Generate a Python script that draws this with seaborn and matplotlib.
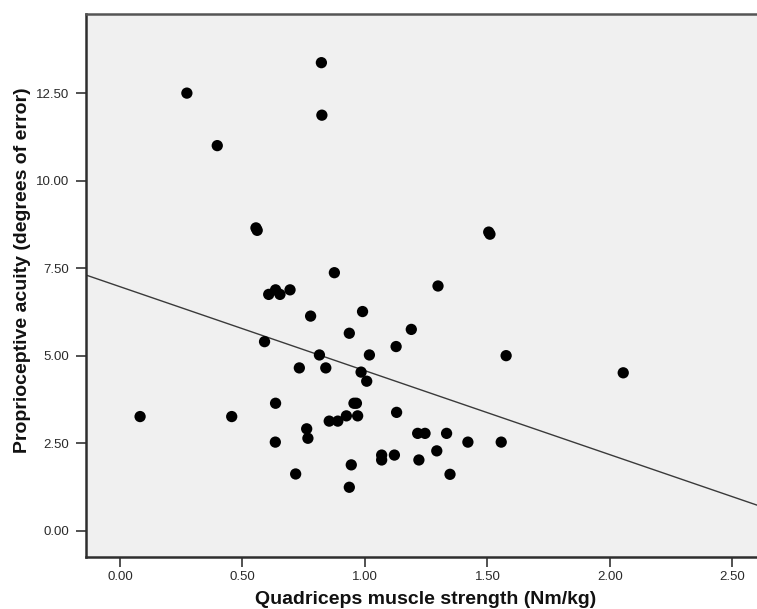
import matplotlib
matplotlib.use("Agg")
import matplotlib.pyplot as plt
import seaborn as sns
import pandas as pd
from matplotlib.ticker import FormatStrFormatter, FixedLocator

strength = [0.082, 0.273, 0.397, 0.456, 0.555, 0.560, 0.590, 0.607, 0.635, 0.653,
            0.694, 0.635, 0.634, 0.717, 0.732, 0.762, 0.767, 0.778, 0.814, 0.822,
            0.824, 0.840, 0.854, 0.875, 0.889, 0.924, 0.936, 0.936, 0.944, 0.955,
            0.965, 0.970, 0.984, 0.990, 1.007, 1.018, 1.068, 1.068, 1.120, 1.127,
            1.129, 1.189, 1.215, 1.220, 1.245, 1.293, 1.298, 1.333, 1.347, 1.420,
            1.505, 1.510, 1.556, 1.576, 2.054]
acuity = [3.26, 12.50, 11.00, 3.26, 8.65, 8.58, 5.40, 6.75, 6.88, 6.75,
          6.88, 3.64, 2.53, 1.62, 4.65, 2.91, 2.64, 6.13, 5.02, 13.37,
          11.87, 4.65, 3.13, 7.37, 3.13, 3.28, 5.64, 1.24, 1.88, 3.64,
          3.64, 3.28, 4.53, 6.26, 4.27, 5.02, 2.16, 2.02, 2.16, 5.26,
          3.38, 5.75, 2.78, 2.02, 2.78, 2.28, 6.99, 2.78, 1.61, 2.53,
          8.53, 8.47, 2.53, 5.00, 4.51]

# fitted regression line as shown in the chart
fit_intercept = 6.97
fit_slope = -2.40

x_ticks = [0.0, 0.5, 1.0, 1.5, 2.0, 2.5]
y_ticks = [0.0, 2.5, 5.0, 7.5, 10.0, 12.5]

df = pd.DataFrame({"strength": strength, "acuity": acuity})

sns.set_theme(style="ticks")
plt.rcParams["font.family"] = ["Liberation Sans", "DejaVu Sans"]

fig = plt.figure(figsize=(7.57, 6.09), dpi=100)
ax = fig.add_axes([0.1132, 0.0859, 0.8868, 0.8911])
ax.set_facecolor("#f0f0f0")
xlim = (-0.14, 2.60)
ylim = (-0.743, 14.76)

sns.scatterplot(data=df, x="strength", y="acuity", ax=ax, s=66, color="black",
                edgecolor="none", linewidth=0, zorder=3)
ax.axline((0, fit_intercept), slope=fit_slope, color="#3a3a3a", lw=1.0, zorder=2)

ax.set_xlim(*xlim)
ax.set_ylim(*ylim)
ax.xaxis.set_major_locator(FixedLocator(x_ticks))
ax.yaxis.set_major_locator(FixedLocator(y_ticks))
ax.xaxis.set_major_formatter(FormatStrFormatter("%.2f"))
ax.yaxis.set_major_formatter(FormatStrFormatter("%.2f"))
ax.tick_params(axis="both", labelsize=9.5, colors="#333333", length=7, width=1.2,
               direction="out")
ax.tick_params(axis="y", pad=5)
ax.tick_params(axis="x", pad=3)
for t in ax.get_xticklabels() + ax.get_yticklabels():
    t.set_color("#2a2a2a")

for side in ["left", "bottom", "top"]:
    ax.spines[side].set_visible(True)
    ax.spines[side].set_color("#2e2e2e")
    ax.spines[side].set_linewidth(1.8)
ax.spines["top"].set_color("#555555")
ax.spines["right"].set_visible(False)

ax.set_xlabel("Quadriceps muscle strength (Nm/kg)", fontsize=14, fontweight="bold",
              color="#111111")
ax.set_ylabel("Proprioceptive acuity (degrees of error)", fontsize=14,
              fontweight="bold", color="#111111")
ax.xaxis.set_label_coords(0.506, -0.063)
ax.yaxis.set_label_coords(-0.081, 0.528)

fig.savefig("out.png", dpi=100)
